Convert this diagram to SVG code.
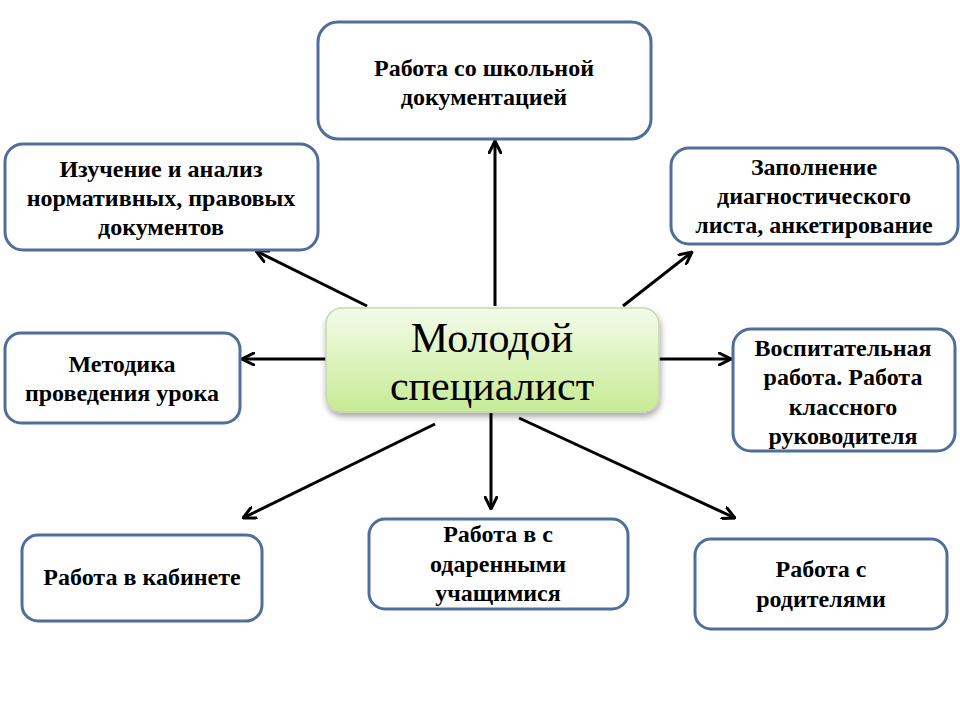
<svg xmlns="http://www.w3.org/2000/svg" width="960" height="720" viewBox="0 0 960 720">
<defs>
<linearGradient id="cg" x1="0" y1="0" x2="0" y2="1">
<stop offset="0" stop-color="#F4FBEA"/>
<stop offset="1" stop-color="#C6EB94"/>
</linearGradient>
<filter id="sh" x="-10%" y="-10%" width="120%" height="130%">
<feGaussianBlur in="SourceAlpha" stdDeviation="3"/>
<feOffset dx="1" dy="4"/>
<feComponentTransfer><feFuncA type="linear" slope="0.35"/></feComponentTransfer>
<feMerge><feMergeNode/><feMergeNode in="SourceGraphic"/></feMerge>
</filter>
<marker id="arr" viewBox="0 0 14 14" refX="13" refY="7" markerWidth="14" markerHeight="14" markerUnits="userSpaceOnUse" orient="auto">
<path d="M1,1 L13,7 L1,13" fill="none" stroke="#000" stroke-width="3" stroke-linecap="round" stroke-linejoin="miter"/>
</marker>
</defs>
<style>
.box{fill:#fff;stroke:#4F6E9C;stroke-width:3}
.t{font-family:"Liberation Serif","Times New Roman",serif;font-weight:bold;font-size:24px;fill:#000;text-anchor:middle}
.c{font-family:"Liberation Serif","Times New Roman",serif;font-size:42px;fill:#000;text-anchor:middle}
.ln{stroke:#000;stroke-width:3;fill:none;marker-end:url(#arr)}
</style>
<rect width="960" height="720" fill="#fff"/>
<g id="connectors">
<line class="ln" x1="495" y1="306" x2="495" y2="141"/>
<line class="ln" x1="367" y1="306" x2="256" y2="251"/>
<line class="ln" x1="623" y1="306" x2="692" y2="252"/>
<line class="ln" x1="327" y1="359" x2="242" y2="359"/>
<line class="ln" x1="659" y1="359" x2="731" y2="359"/>
<line class="ln" x1="435" y1="424" x2="243" y2="518"/>
<line class="ln" x1="491" y1="413" x2="491" y2="509"/>
<line class="ln" x1="519" y1="418" x2="735" y2="518"/>
</g>
<g id="center">
<rect x="326" y="308" width="333" height="104" rx="16" fill="url(#cg)" stroke="#C9D8B0" stroke-width="1.5" filter="url(#sh)"/>
<text class="c" x="492" y="352">Молодой</text>
<text class="c" x="492" y="400">специалист</text>
</g>
<g id="n-top">
<rect class="box" x="318" y="22" width="333" height="117" rx="20"/>
<text class="t" x="484" y="76">Работа со школьной</text>
<text class="t" x="484" y="105">документацией</text>
</g>
<g id="n-topleft">
<rect class="box" x="5" y="144" width="313" height="106" rx="18"/>
<text class="t" x="161" y="177">Изучение и анализ</text>
<text class="t" x="161" y="206">нормативных, правовых</text>
<text class="t" x="161" y="235">документов</text>
</g>
<g id="n-topright">
<rect class="box" x="671" y="148" width="287" height="96" rx="18"/>
<text class="t" x="814" y="175">Заполнение</text>
<text class="t" x="814" y="204">диагностического</text>
<text class="t" x="814" y="233">листа, анкетирование</text>
</g>
<g id="n-left">
<rect class="box" x="5" y="333" width="235" height="90" rx="16"/>
<text class="t" x="122" y="372">Методика</text>
<text class="t" x="122" y="401">проведения урока</text>
</g>
<g id="n-right">
<rect class="box" x="733" y="329" width="222" height="122" rx="18"/>
<text class="t" x="843" y="356">Воспитательная</text>
<text class="t" x="843" y="385">работа. Работа</text>
<text class="t" x="843" y="415">классного</text>
<text class="t" x="843" y="444">руководителя</text>
</g>
<g id="n-bottomleft">
<rect class="box" x="22" y="535" width="240" height="86" rx="16"/>
<text class="t" x="142" y="585">Работа в кабинете</text>
</g>
<g id="n-bottom">
<rect class="box" x="369" y="519" width="259" height="90" rx="16"/>
<text class="t" x="498" y="542">Работа в с</text>
<text class="t" x="498" y="572">одаренными</text>
<text class="t" x="498" y="601">учащимися</text>
</g>
<g id="n-bottomright">
<rect class="box" x="695" y="539" width="252" height="90" rx="16"/>
<text class="t" x="821" y="577">Работа с</text>
<text class="t" x="821" y="607">родителями</text>
</g>
</svg>
